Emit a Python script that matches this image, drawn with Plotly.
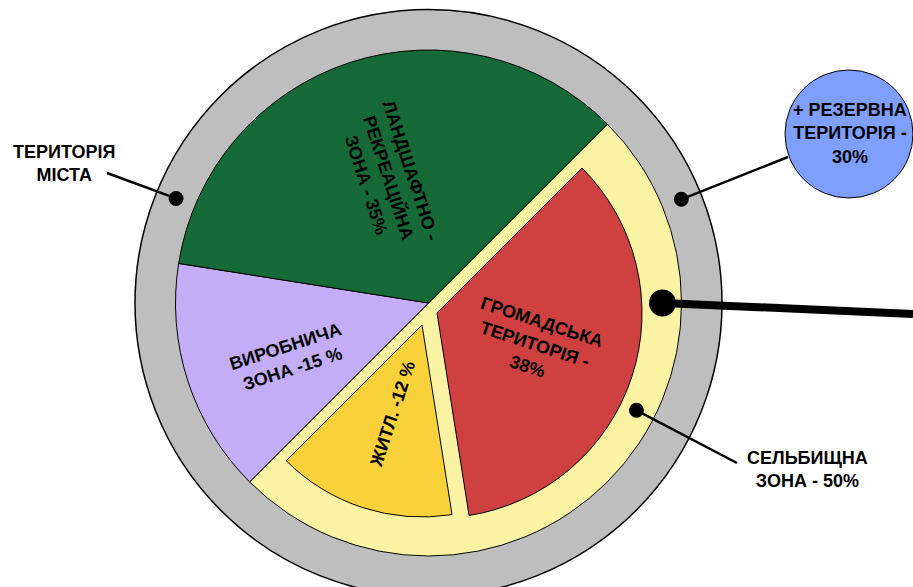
import math
import plotly.graph_objects as go

W, H = 913, 587

# ---- data -------------------------------------------------------------
# main zones of the city territory (%), drawn clockwise from the upper right
zone_names = ["СЕЛЬБИЩНА<br>ЗОНА - 50%", "ВИРОБНИЧА<br>ЗОНА -15 %", "ЛАНДШАФТНО -<br>РЕКРЕАЦІЙНА<br>ЗОНА - 35%"]
zone_values = [50, 15, 35]
zone_colors = ["#FAF3A3", "#C3ADF6", "#166A37"]

# sub-zones of the residential zone: angular share as drawn in the picture, and label text
sub_names = ["ГРОМАДСЬКА<br>ТЕРИТОРІЯ -<br>38%", "ЖИТЛ. -12 %"]
sub_drawn = [35, 15]
sub_colors = ["#CF4141", "#F9D23B"]

city_label = "ТЕРИТОРІЯ<br>МІСТА"
reserve_label = "+ РЕЗЕРВНА<br>ТЕРИТОРІЯ -<br>30%"

# ---- geometry / style -------------------------------------------------
CX, CY = 428.5, 303
R_MAIN = 253
R_OUT = 293.5
ROT = 45
SUB_CENTER = [(437, 313), (422, 325)]   # apex of each separated sub-sector
R_SUB = [205, 192]
FONT = dict(family="Liberation Sans, Arial, sans-serif", size=18, color="black", weight="bold")
TRANSP = "rgba(0,0,0,0)"


def domain(cx, cy, half):
    return dict(x=[(cx - half) / W, (cx + half) / W], y=[1 - (cy + half) / H, 1 - (cy - half) / H])


def polar(r, phi, cx=CX, cy=CY):  # phi: degrees clockwise from 12 o'clock, screen coords
    a = math.radians(phi)
    return cx + r * math.sin(a), cy - r * math.cos(a)


def mid_phi(values, i):
    tot = sum(values)
    return ROT + 360 * (sum(values[:i]) + values[i] / 2) / tot


def radial_angle(phi):
    t = phi - 90
    while t > 90:
        t -= 180
    while t <= -90:
        t += 180
    return t


fig = go.Figure()

# main pie
fig.add_trace(go.Pie(values=zone_values, sort=False, direction="clockwise", rotation=ROT,
                     marker=dict(colors=zone_colors, line=dict(color="black", width=1)),
                     textinfo="none", hoverinfo="skip", showlegend=False,
                     domain=domain(CX, CY, R_MAIN)))

# sub-zones (each its own pie, set apart from the others)
sub_values = sub_drawn + [sum(sub_drawn)]
for k in range(2):
    cols = [TRANSP] * 3
    cols[k] = sub_colors[k]
    widths = [0] * 3
    widths[k] = 1
    fig.add_trace(go.Pie(values=sub_values, sort=False, direction="clockwise", rotation=ROT,
                         marker=dict(colors=cols, line=dict(color="black", width=widths)),
                         textinfo="none", hoverinfo="skip", showlegend=False,
                         domain=domain(SUB_CENTER[k][0], SUB_CENTER[k][1], R_SUB[k])))

shapes = []
# grey outer ring (city territory)
shapes.append(dict(type="circle", xref="x", yref="y", layer="below",
                   x0=CX - R_OUT, x1=CX + R_OUT, y0=CY - R_OUT, y1=CY + R_OUT,
                   fillcolor="#BEBEBE", line=dict(color="black", width=1.5)))

annotations = []
# labels inside the slices (radius fraction, angular nudge)
zone_pos = [None, (0.593, -3.5), (0.52, 0)]
for i in (1, 2):
    phi = mid_phi(zone_values, i)
    x, y = polar(zone_pos[i][0] * R_MAIN, phi + zone_pos[i][1])
    annotations.append(dict(x=x, y=y, xref="x", yref="y", text=zone_names[i], showarrow=False,
                            font=FONT, textangle=radial_angle(phi)))
sub_frac = [0.5, 0.49]
for k in range(2):
    phi = mid_phi(sub_values, k)
    x, y = polar(sub_frac[k] * R_SUB[k], phi, *SUB_CENTER[k])
    annotations.append(dict(x=x, y=y, xref="x", yref="y", text=sub_names[k], showarrow=False,
                            font=FONT, textangle=radial_angle(phi)))

# leader lines with dots
R_GREY_MID = (R_MAIN + R_OUT) / 2
leaders = [
    (R_GREY_MID, 292.5, (107, 173), 7.5, 2.5),   # city territory
    (R_GREY_MID, 67.7, (788, 157), 7.5, 2.5),    # reserve
    (234, 90, (913, 314), 13.5, 8),               # thick line
    (234, 117.3, (737, 463), 7.5, 2.5),           # residential zone
]
for r, phi, end, dot_r, lw in leaders:
    x, y = polar(r, phi)
    shapes.append(dict(type="line", xref="x", yref="y", layer="above", x0=x, y0=y, x1=end[0], y1=end[1],
                       line=dict(color="black", width=lw)))
    shapes.append(dict(type="circle", xref="x", yref="y", layer="above",
                       x0=x - dot_r, x1=x + dot_r, y0=y - dot_r, y1=y + dot_r,
                       fillcolor="black", line=dict(color="black", width=0)))

# reserve territory bubble
BX, BY, BR = 849, 134, 64
shapes.append(dict(type="circle", xref="x", yref="y", layer="above",
                   x0=BX - BR, x1=BX + BR, y0=BY - BR, y1=BY + BR,
                   fillcolor="#7F9FFF", line=dict(color="black", width=1)))

annotations.append(dict(x=64, y=163, xref="x", yref="y", text=city_label, showarrow=False, font=FONT))
annotations.append(dict(x=850, y=133.5, xref="x", yref="y", text=reserve_label, showarrow=False, font=FONT))
annotations.append(dict(x=807, y=469, xref="x", yref="y", text=zone_names[0], showarrow=False, font=FONT))

fig.update_layout(
    width=W, height=H, margin=dict(l=0, r=0, t=0, b=0),
    paper_bgcolor="white", plot_bgcolor="white",
    xaxis=dict(range=[0, W], visible=False, fixedrange=True),
    yaxis=dict(range=[H, 0], visible=False, fixedrange=True),
    shapes=shapes, annotations=annotations, showlegend=False,
)

fig.write_html("out.html", config={"displayModeBar": False},
               post_script="document.body.style.margin='0';document.body.style.overflow='hidden';")
